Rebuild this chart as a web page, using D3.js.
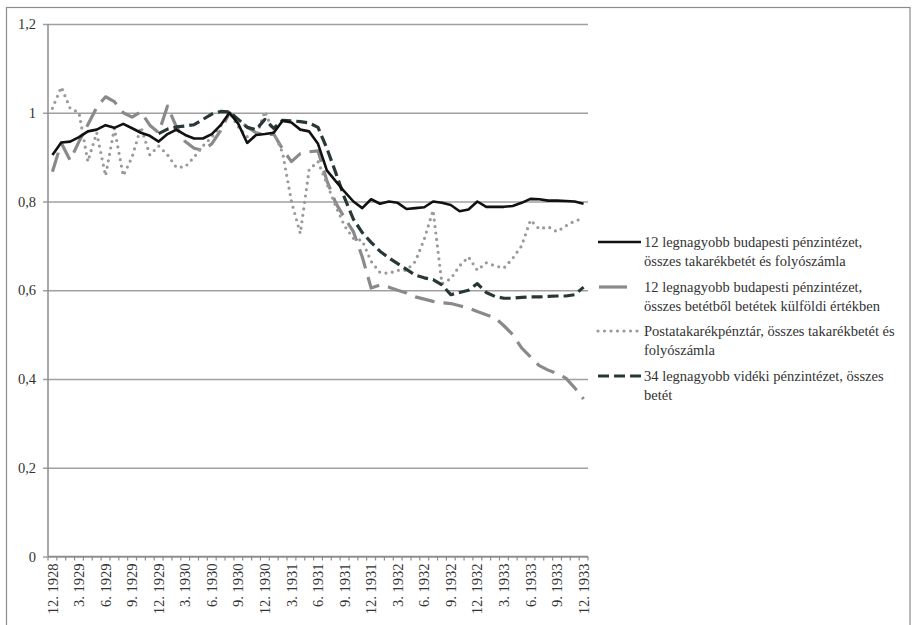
<!DOCTYPE html>
<html><head><meta charset="utf-8">
<script src="https://cdn.jsdelivr.net/npm/d3@7/dist/d3.min.js"></script>
<style>
html,body{margin:0;padding:0;background:#fff;}
svg{display:block;}
text{font-family:"Liberation Serif","Times New Roman",serif;fill:#333;}
</style></head>
<body>
<svg id="chart" width="914" height="625"></svg>
<script>
const categories = [
"12. 1928","1. 1929","2. 1929","3. 1929","4. 1929","5. 1929","6. 1929","7. 1929","8. 1929","9. 1929","10. 1929","11. 1929",
"12. 1929","1. 1930","2. 1930","3. 1930","4. 1930","5. 1930","6. 1930","7. 1930","8. 1930","9. 1930","10. 1930","11. 1930",
"12. 1930","1. 1931","2. 1931","3. 1931","4. 1931","5. 1931","6. 1931","7. 1931","8. 1931","9. 1931","10. 1931","11. 1931",
"12. 1931","1. 1932","2. 1932","3. 1932","4. 1932","5. 1932","6. 1932","7. 1932","8. 1932","9. 1932","10. 1932","11. 1932",
"12. 1932","1. 1933","2. 1933","3. 1933","4. 1933","5. 1933","6. 1933","7. 1933","8. 1933","9. 1933","10. 1933","11. 1933",
"12. 1933"];
const tickLabels = ["12. 1928","3. 1929","6. 1929","9. 1929","12. 1929","3. 1930","6. 1930","9. 1930","12. 1930","3. 1931","6. 1931","9. 1931","12. 1931","3. 1932","6. 1932","9. 1932","12. 1932","3. 1933","6. 1933","9. 1933","12. 1933"];
const yTicks = [0,0.2,0.4,0.6,0.8,1,1.2];

const seriesNames = [
 ["12 legnagyobb budapesti pénzintézet,","összes takarékbetét és folyószámla"],
 ["12 legnagyobb budapesti pénzintézet,","összes betétből betétek külföldi értékben"],
 ["Postatakarékpénztár, összes takarékbetét és","folyószámla"],
 ["34 legnagyobb vidéki pénzintézet, összes","betét"]
];

const budapestTotal = [0.905,0.933,0.935,0.945,0.958,0.962,0.972,0.966,0.975,0.965,
0.955,0.948,0.935,0.952,0.962,0.950,0.942,0.942,0.952,0.972,
1.0,0.975,0.932,0.95,0.952,0.955,0.982,0.978,0.962,0.958,
0.93,0.87,0.846,0.822,0.8,0.785,0.805,0.795,0.8,0.797,
0.783,0.785,0.787,0.8,0.797,0.792,0.778,0.782,0.8,0.788,
0.788,0.788,0.79,0.797,0.806,0.805,0.802,0.802,0.801,0.8,0.795];

const budapestForeign = [0.867,0.932,0.893,0.935,0.973,1.012,1.036,1.025,1.0,0.99,
1.002,0.972,0.955,1.015,0.968,0.935,0.92,0.915,0.93,0.96,
1.0,0.983,0.968,0.955,0.95,0.952,0.918,0.89,0.908,0.912,
0.914,0.847,0.797,0.763,0.732,0.675,0.605,0.612,0.607,0.6,
0.594,0.585,0.58,0.575,0.572,0.57,0.565,0.56,0.552,0.545,
0.538,0.52,0.5,0.47,0.45,0.43,0.42,0.412,0.402,0.38,0.355];

const postal = [1.01,1.058,1.01,1.0,0.89,0.955,0.858,0.965,0.858,0.9,
0.968,0.905,0.925,0.905,0.877,0.878,0.9,0.925,0.945,0.97,
1.0,0.968,0.946,0.945,1.003,0.955,0.91,0.8,0.728,0.872,
0.89,0.84,0.79,0.745,0.717,0.712,0.665,0.64,0.638,0.645,
0.645,0.665,0.715,0.78,0.615,0.626,0.655,0.675,0.645,0.662,
0.655,0.65,0.672,0.7,0.758,0.738,0.743,0.732,0.745,0.756,0.762];

const provincial = [null,null,null,null,null,null,null,null,null,null,
null,null,0.953,0.963,0.968,0.97,0.973,0.985,0.997,1.003,
1.002,0.985,0.967,0.962,0.985,0.965,0.983,0.982,0.98,0.977,
0.967,0.92,0.865,0.808,0.76,0.73,0.708,0.688,0.673,0.66,
0.647,0.634,0.628,0.624,0.612,0.59,0.595,0.6,0.615,0.595,
0.586,0.582,0.582,0.584,0.585,0.585,0.586,0.587,0.587,0.59,0.607];

(function(){
const svg = d3.select("#chart");
const pL = 48, pR = 588, pT = 24, pB = 556.5;

// outer frame
svg.append("rect").attr("x",6.5).attr("y",7.5).attr("width",903.5).attr("height",640)
  .attr("fill","none").attr("stroke","#8c8c8c").attr("stroke-width",1.2);

const x = d3.scaleBand().domain(categories).range([pL,pR]).padding(0);
const xc = d => x(d) + x.bandwidth()/2;
const y = d3.scaleLinear().domain([0,1.2]).range([pB,pT]);

// gridlines + y axis
const yAxis = d3.axisLeft(y).tickValues(yTicks).tickSize(-(pR-pL))
  .tickFormat(d => String(+d.toFixed(1)).replace(".",","));
const gy = svg.append("g").attr("transform",`translate(${pL},0)`).call(yAxis);
gy.select(".domain").remove();
gy.selectAll(".tick line").attr("stroke","#a0a0a0").attr("stroke-width",1.5).attr("x1",-5);
gy.selectAll(".tick text").attr("x",-12).attr("font-size","14.5px").attr("fill","#333")
  .style("font-family",'"Liberation Serif",serif');

// vertical axis line
svg.append("line").attr("x1",pL).attr("x2",pL).attr("y1",pT).attr("y2",pB)
  .attr("stroke","#8c8c8c").attr("stroke-width",1.5);
// x axis line
svg.append("line").attr("x1",pL).attr("x2",pR).attr("y1",pB).attr("y2",pB)
  .attr("stroke","#8c8c8c").attr("stroke-width",1.5);
// category boundary ticks
svg.append("g").selectAll("line").data(categories.concat(["__end"])).join("line")
  .attr("x1",d => d==="__end" ? pR : x(d)).attr("x2",d => d==="__end" ? pR : x(d))
  .attr("y1",pB).attr("y2",pB+4).attr("stroke","#8c8c8c").attr("stroke-width",1.2);

// x labels
const xAxis = d3.axisBottom(x).tickValues(tickLabels).tickSize(0);
const gx = svg.append("g").attr("transform",`translate(0,${pB})`).call(xAxis);
gx.select(".domain").remove();
gx.selectAll(".tick text").attr("transform","rotate(-90)").attr("text-anchor","end")
  .attr("x",-7).attr("y",0).attr("dy","0.35em").attr("font-size","14.5px").attr("fill","#333")
  .style("font-family",'"Liberation Serif",serif');

// series
const styles = [
  {data:budapestTotal, color:"#111", width:2.6, dash:null, cap:"butt"},
  {data:budapestForeign, color:"#8a8a8a", width:3.2, dash:"20,9", cap:"butt"},
  {data:postal, color:"#9a9a9a", width:3.2, dash:"0,6.5", cap:"round"},
  {data:provincial, color:"#283838", width:3.2, dash:"11,5", cap:"butt"}
];
const order = [1,2,3,0];
order.forEach(k => {
  const s = styles[k];
  const line = d3.line().defined(d => d != null).x((d,i) => xc(categories[i])).y(d => y(d));
  svg.append("path").datum(s.data).attr("d",line).attr("fill","none")
    .attr("stroke",s.color).attr("stroke-width",s.width).attr("stroke-linejoin","round")
    .attr("stroke-linecap",s.cap).attr("stroke-dasharray",s.dash);
});

// legend
const legY = [242,287,331,376];
styles.forEach((s,k) => {
  const g = svg.append("g");
  let x1 = 598, x2 = 641;
  if (k===1) { x1 = 599; x2 = 627; }
  g.append("line").attr("x1",x1).attr("x2",x2).attr("y1",legY[k]).attr("y2",legY[k])
    .attr("stroke",s.color).attr("stroke-width",s.width).attr("stroke-linecap",s.cap)
    .attr("stroke-dasharray",k===1?null:s.dash);
  seriesNames[k].forEach((t,j) => {
    g.append("text").attr("x",644).attr("y",legY[k] + j*18.7).attr("dy","0.35em")
      .attr("font-size","14.5px").attr("fill","#333").text(t);
  });
});
})();
</script>
</body></html>
